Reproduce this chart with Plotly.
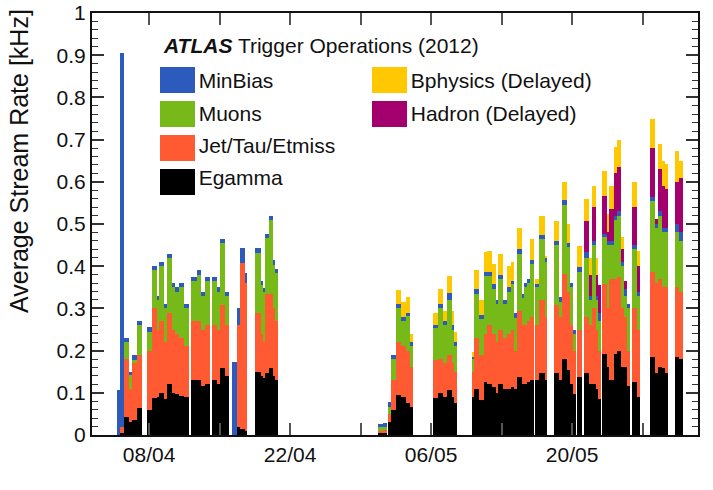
import pandas as pd
import plotly.graph_objects as go

# ---------------- data ----------------
ref_date = "2012-04-08"
# run start / end, in days since ref_date
run_start = [-3.18, -2.88, -2.48, -1.99, -1.69, -1.19, -0.20,
             0.30, 0.79, 0.99, 1.49, 1.79, 2.28, 2.58, 2.98, 3.48,
             4.17, 4.77, 5.16, 5.56,
             6.26, 6.75, 7.05, 7.55,
             8.24, 8.74, 9.04, 9.53,
             10.53, 11.12, 11.32, 11.52, 11.92, 12.31, 12.51,
             22.74, 23.24,
             23.73, 24.03, 24.53, 25.02, 25.52, 25.92,
             28.20, 28.70, 29.20, 29.59, 30.09, 30.29,
             32.08, 32.27, 32.77, 33.27, 33.57, 34.06, 34.46, 34.66, 35.15, 35.55, 35.95, 36.25, 36.54, 37.04, 37.24, 37.54, 37.84,
             38.33, 38.73, 39.32,
             40.22, 40.72, 41.01, 41.51, 41.81, 42.11,
             42.50,
             43.20, 43.69, 43.99, 44.39, 44.59,
             44.99, 45.48, 45.68, 46.18, 46.47, 46.87, 47.17, 47.47,
             47.97, 48.46,
             49.75, 50.25, 50.55, 50.94, 51.24,
             52.24, 52.63]
run_end = [-2.88, -2.48, -1.99, -1.69, -1.19, -0.70, 0.30,
           0.79, 0.99, 1.49, 1.79, 2.28, 2.58, 2.98, 3.48, 3.97,
           4.77, 5.16, 5.56, 6.06,
           6.75, 7.05, 7.55, 7.94,
           8.74, 9.04, 9.53, 9.73,
           11.12, 11.32, 11.52, 11.92, 12.31, 12.51, 12.81,
           23.24, 23.63,
           24.03, 24.53, 25.02, 25.52, 25.92, 26.22,
           28.70, 29.20, 29.59, 30.09, 30.29, 30.59,
           32.27, 32.77, 33.27, 33.57, 34.06, 34.46, 34.66, 35.15, 35.55, 35.95, 36.25, 36.54, 37.04, 37.24, 37.54, 37.84, 38.23,
           38.73, 39.32, 39.52,
           40.72, 41.01, 41.51, 41.81, 42.11, 42.40,
           43.00,
           43.69, 43.99, 44.39, 44.59, 44.89,
           45.48, 45.68, 46.18, 46.47, 46.87, 47.17, 47.47, 47.77,
           48.46, 48.76,
           50.25, 50.55, 50.94, 51.24, 51.54,
           52.63, 53.03]

# average stream rates [kHz]
egamma = [0, .005, .043, .03, .035, .063, .06,
          .087, .09, .10, .085, .12, .10, .098, .092, .09,
          .13, .13, .115, .12,
          .13, .12, .158, .14,
          0, .02, .015, .01,
          .149, .14, .135, .146, .158, .14, .13,
          .005, .005,
          .03, .059, .094, .09, .075, .067,
          .087, .10, .09, .106, .09, .075,
          .09, .108, .083, .126, .122, .114, .10, .122, .11, .11, .114, .11, .138, .12, .12, .125, .13,
          .13, .146, .13,
          .146, .13, .18, .154, .122, .098,
          .138,
          .146, .122, .122, .11, .085,
          .193, .16, .13, .193, .2, .16, .162, .115,
          .126, .09,
          .185, .146, .162, .158, .146,
          .185, .18]
jet_tau_etmiss = [0, .015, .138, .08, .135, .127, .14,
                  .213, .16, .17, .135, .17, .15, .142, .138, .12,
                  .14, .14, .135, .14,
                  .13, .13, .151, .12,
                  0, .24, .392, .35,
                  .141, .10, .085, .189, .177, .16, .14,
                  .005, .007,
                  .02, .071, .126, .12, .125, .093,
                  .09, .08, .08, .084, .08, .075,
                  .06, .122, .107, .114, .138, .126, .12, .128, .12, .13, .134, .09, .157, .14, .14, .145, .15,
                  .13, .174, .15,
                  .161, .15, .202, .186, .138, .102,
                  .112,
                  .134, .138, .178, .14, .115,
                  .166, .14, .24, .177, .175, .14, .118, .085,
                  .174, .16,
                  .201, .214, .208, .192, .204,
                  .165, .16]
muons = [0, 0, .039, .032, .008, .07, .045,
         .09, .07, .13, .08, .13, .10, .10, .12, .09,
         .095, .11, .08, .105,
         .105, .09, .146, .07,
         0, 0, 0, 0,
         .142, .115, .118, .132, .175, .104, .114,
         .01, .008,
         .017, .049, .08, .06, .083, .05,
         .076, .12, .09, .13, .08, .06,
         .03, .105, .085, .136, .117, .107, .09, .12, .08, .10, .109, .078, .135, .065, .09, .09, .125,
         .09, .145, .13,
         .143, .035, .163, .105, .09, .04,
         .136,
         .14, .06, .15, .07, .07,
         .111, .15, .08, .14, .145, .10, .05, .10,
         .14, .08,
         .169, .13, .15, .13, .13,
         .13, .12]
minbias = [.106, .885, .009, .008, .011, .01, .011,
           .01, .01, .01, .01, .01, .01, .01, .01, .01,
           .01, .01, .01, .01,
           .01, .01, .01, .01,
           .172, .04, .035, .025,
           .01, .011, .01, .01, .01, .01, .01,
           .006, .008,
           .012, .01, .011, .01, .007, .01,
           .007, .01, .01, .016, .01, .01,
           .005, .01, .01, .01, .01, .01, .01, .01, .01, .01, .009, .01, .01, .01, .01, .01, .009,
           .008, .01, .01,
           .01, .012, .011, .01, .01, .008,
           .012,
           .013, .01, .01, .01, .02,
           .007, .01, .01, .01, .01, .01, .015, .01,
           .01, .01,
           .008, .01, .01, .01, .01,
           .02, .02]
hadron_delayed = [0] * 76 + [
    .075, .05, .08, .05, .065,
    .09, .02, .075, .10, .105, .03, .021, 0,
    .09, .06,
    .117, .012, .10, .10, .093,
    .10, .13]
bphysics_delayed = [0] * 39 + [
    .032, .035, .037, .02,
    .028, .037, .025, .04, .035, .024,
    .012, .045, .035, .047, .05, .049, 0, .048, 0, .05, .044, 0, .05, 0, 0, 0, .051,
    .012, .043, .005,
    .047, 0, .044, .045, 0, 0,
    .049,
    .052, .04, .05, .04, 0,
    .059, .044, .055, .063, .065, .03, 0, 0,
    .06, .037,
    .069, 0, .06, .06, .059,
    .074, .04]

week_ticks = ["2012-04-08", "2012-04-15", "2012-04-22", "2012-04-29",
              "2012-05-06", "2012-05-13", "2012-05-20", "2012-05-27"]
week_labels = ["08/04", "", "22/04", "", "06/05", "", "20/05", ""]

# ---------------- figure ----------------
n = len(run_start)
for arr in (run_end, egamma, jet_tau_etmiss, muons, minbias, hadron_delayed, bphysics_delayed):
    assert len(arr) == n, len(arr)

t0 = pd.Timestamp(ref_date)
starts = t0 + pd.to_timedelta(run_start, unit="D")
ends = t0 + pd.to_timedelta(run_end, unit="D")
centers = starts + (ends - starts) / 2
widths = list((ends - starts).total_seconds() * 1000.0)

FONT = "Liberation Sans, Arial, Helvetica, sans-serif"

# name, values, colour, legend, rank, legend column, legend row
series = [
    ("Egamma", egamma, "#000000", "legend", 4, 0, 3),
    ("Jet/Tau/Etmiss", jet_tau_etmiss, "#ff5a32", "legend", 3, 0, 2),
    ("Muons", muons, "#78b91a", "legend", 2, 0, 1),
    ("MinBias", minbias, "#2d5bbd", "legend", 1, 0, 0),
    ("Hadron (Delayed)", hadron_delayed, "#a3006e", "legend2", 2, 1, 1),
    ("Bphysics (Delayed)", bphysics_delayed, "#ffc800", "legend2", 1, 1, 0),
]

fig = go.Figure()
for name, vals, col, leg, rank, _, _ in series:
    fig.add_trace(go.Bar(
        x=centers, y=vals, width=widths, name=name,
        marker=dict(color=col, line=dict(width=0)),
        legend=leg, legendrank=rank, legendgroup=name,
    ))

# plot-area geometry (pixels) used to place legend swatch boxes in paper coords
PL, PW, PT, PH = 92, 606, 13, 422
def px2x(px):
    return (px - PL) / PW
def px2y(py):
    return 1 - (py - PT) / PH

col_left = [160, 372]
row_center = [80, 114, 148, 182]
shapes = []
for name, _, col, _, _, c, r in series:
    shapes.append(dict(
        type="rect", xref="paper", yref="paper", layer="above",
        x0=px2x(col_left[c]), x1=px2x(col_left[c] + 35),
        y0=px2y(row_center[r] + 13), y1=px2y(row_center[r] - 13),
        fillcolor=col, line=dict(width=0),
    ))

legend_common = dict(
    font=dict(family=FONT, size=21, color="#111"),
    bgcolor="rgba(0,0,0,0)", borderwidth=0,
    xanchor="left", yanchor="top", tracegroupgap=2,
    itemclick=False, itemdoubleclick=False,
)

fig.update_layout(
    template="none",
    width=713, height=490,
    margin=dict(l=PL, r=713 - PL - PW, t=PT, b=490 - PT - PH, autoexpand=False),
    paper_bgcolor="white", plot_bgcolor="white",
    barmode="stack", bargap=0,
    font=dict(family=FONT, size=21, color="#111"),
    legend=dict(x=0.11, y=px2y(60), **legend_common),
    legend2=dict(x=0.46, y=px2y(60), **legend_common),
    shapes=shapes,
    xaxis=dict(
        type="date", automargin=False, ticklabeloverflow="allow",
        range=["2012-04-02 08:00", "2012-06-01 12:00"],
        tickvals=week_ticks, ticktext=week_labels,
        ticks="inside", ticklen=12, tickwidth=1.5, tickcolor="#555",
        showline=True, linecolor="#111", linewidth=2, mirror="ticks",
        showgrid=False, zeroline=False,
        tickfont=dict(family=FONT, size=21, color="#111"),
    ),
    yaxis=dict(
        range=[0, 1], dtick=0.1, automargin=False, ticklabeloverflow="allow",
        ticks="inside", ticklen=12, tickwidth=1.5, tickcolor="#333",
        minor=dict(dtick=0.02, ticks="inside", ticklen=6, tickcolor="#333", tickwidth=1.2),
        showline=True, linecolor="#111", linewidth=2, mirror="ticks",
        showgrid=False, zeroline=False,
        tickfont=dict(family=FONT, size=21, color="#111"),
    ),
    annotations=[
        dict(text="<b><i>ATLAS</i></b> Trigger Operations (2012)",
             xref="paper", yref="paper", x=px2x(161), y=px2y(45),
             xanchor="left", yanchor="middle", showarrow=False,
             font=dict(family=FONT, size=21, color="#111")),
        dict(text="Average Stream Rate [kHz]",
             xref="paper", yref="paper", x=px2x(19), y=px2y(7),
             xanchor="center", yanchor="top", textangle=-90, showarrow=False,
             font=dict(family=FONT, size=25, color="#111")),
    ],
)

fig.write_html("out.html")
